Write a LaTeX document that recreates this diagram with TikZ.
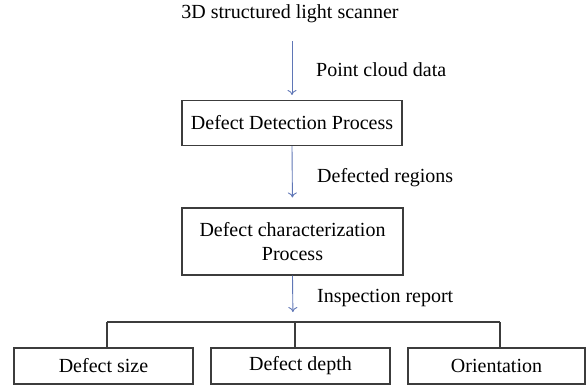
\documentclass[tikz,border=0pt]{standalone}
\usepackage{fontspec}
\setmainfont{Liberation Serif}
\newfontfamily\diagfont{Liberation Serif}
\usetikzlibrary{arrows.meta,calc}
\definecolor{arrowblue}{RGB}{95,118,182}
\definecolor{boxline}{RGB}{60,60,60}
\begin{document}
\begin{tikzpicture}[x=1pt,y=-1pt,
  every node/.style={font=\diagfont\fontsize{20}{24}\selectfont, text=black, inner sep=0pt},
  procbox/.style={draw=boxline, line width=1.1pt, align=center},
  flow/.style={draw=arrowblue, line width=0.9pt, -{To[length=5pt,width=9pt]}},
  tree/.style={draw=boxline, line width=1.1pt},
  lbl/.style={anchor=west}]
\useasboundingbox (0,0) rectangle (587,386);
\node (scan) at (290,14) {3D structured light scanner};
\node[procbox, minimum width=220pt, minimum height=45pt] (det) at (292,123) {Defect Detection Process};
\node[procbox, minimum width=221pt, minimum height=67pt] (char) at (292.5,241.5) {Defect characterization\\Process};
\node[procbox, minimum width=179pt, minimum height=36pt] (sz) at (103.5,366) {Defect size};
\node[procbox, minimum width=179pt, minimum height=36pt] (dp) at (300.5,366) {Defect depth};
\node[procbox, minimum width=177pt, minimum height=36pt] (or) at (496.5,366) {Orientation};
\coordinate (hub) at (293,322);
\coordinate (hl) at (107,322);
\coordinate (hr) at (500,322);
\coordinate (hm) at (295,322);
\draw[flow, shorten <=18pt, shorten >=5pt] (scan.south -| det.north) -- (det.north);
\draw[flow, shorten >=10pt] (det.south) -- (char.north);
\draw[flow, shorten >=10pt] (char.south) -- (hub);
\node[lbl] (l1) at (316,70) {Point cloud data};
\node[lbl] (l2) at (317,178) {Defected regions};
\node[lbl] (l3) at (317,298) {Inspection report};
\draw[tree] (hl) -- (hr);
\draw[tree] (hl) -- (hl |- sz.north);
\draw[tree] (hm) -- (hm |- dp.north);
\draw[tree] (hr) -- (hr |- or.north);
\end{tikzpicture}
\end{document}
